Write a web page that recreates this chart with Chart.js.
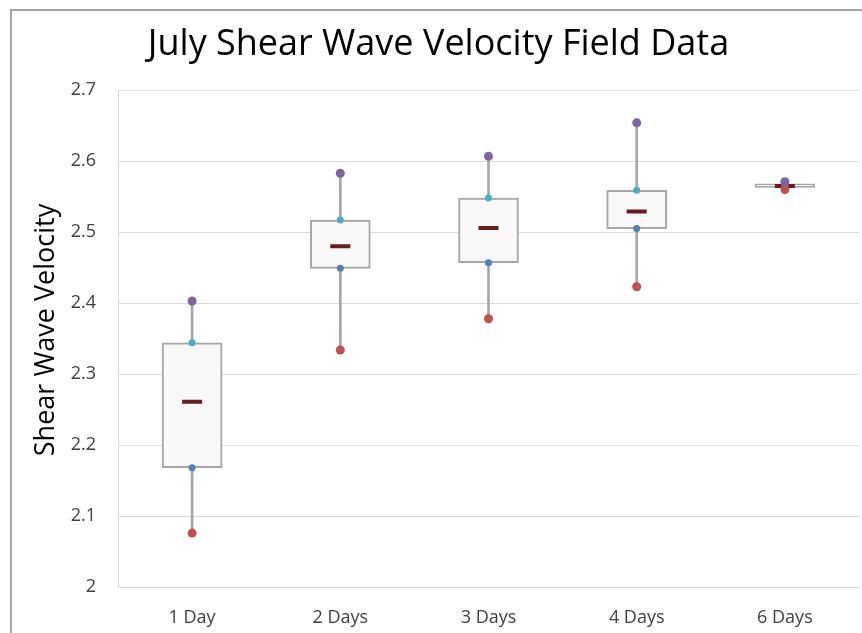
<!DOCTYPE html>
<html>
<head>
<meta charset="utf-8">
<title>July Shear Wave Velocity Field Data</title>
<script src="https://cdn.jsdelivr.net/npm/chart.js@4/dist/chart.umd.min.js"></script>
<style>
  html, body { margin: 0; padding: 0; background: #fff; overflow: hidden; }
  #wrap { position: relative; width: 862px; height: 633px; }
  #frame {
    position: absolute; left: 10px; top: 9px; width: 900px; height: 700px;
    border-top: 2px solid #a6a6a6; border-left: 2px solid #a6a6a6;
    pointer-events: none;
  }
</style>
</head>
<body>
<div id="wrap">
  <canvas id="boxChart" width="862" height="633"></canvas>
  <div id="frame"></div>
</div>
<script>
const categories = ['1 Day', '2 Days', '3 Days', '4 Days', '6 Days'];
const maxValues = [2.403, 2.583, 2.607, 2.654, 2.571];
const q3Values = [2.344, 2.517, 2.548, 2.559, 2.568];
const medianValues = [2.261, 2.480, 2.506, 2.529, 2.565];
const q1Values = [2.168, 2.449, 2.457, 2.505, 2.563];
const minValues = [2.076, 2.334, 2.378, 2.423, 2.560];
const yTicks = [2, 2.1, 2.2, 2.3, 2.4, 2.5, 2.6, 2.7];

const fontFamily = '"Open Sans", "Noto Sans", sans-serif';

// y axis title, drawn a bit above centre like the original
const yTitlePlugin = {
  id: 'yTitle',
  afterDraw(chart) {
    const ctx = chart.ctx;
    ctx.save();
    ctx.translate(46, 330);
    ctx.rotate(-Math.PI / 2);
    ctx.font = `27px ${fontFamily}`;
    ctx.fillStyle = '#000';
    ctx.textAlign = 'center';
    ctx.textBaseline = 'middle';
    ctx.fillText('Shear Wave Velocity', 0, 0);
    ctx.restore();
  },
};

const pointSet = (data, color, radius, order) => ({
  type: 'line',
  data,
  showLine: false,
  pointRadius: radius,
  pointBackgroundColor: color,
  pointBorderWidth: 0,
  pointBorderColor: color,
  order,
});

const context = document.getElementById('boxChart').getContext('2d');

new Chart(context, {
  type: 'bar',
  data: {
    labels: categories,
    datasets: [
      pointSet(maxValues, '#8064a2', 4.5, 0),
      pointSet(q3Values, '#4bacc6', 3.5, 1),
      pointSet(q1Values, '#4f81bd', 3.5, 1),
      pointSet(minValues, '#c0504d', 4.5, 0),
      {
        type: 'line',
        data: medianValues,
        showLine: false,
        pointStyle: 'line',
        pointRadius: 10,
        pointBorderWidth: 4,
        pointBorderColor: '#6b1b1b',
        order: 2,
      },
      {
        data: categories.map((c, i) => [q1Values[i], q3Values[i]]),
        backgroundColor: '#f8f8f8',
        borderColor: '#a6a6a6',
        borderWidth: 2,
        borderSkipped: false,
        barThickness: 60,
        grouped: false,
        order: 3,
      },
      {
        data: categories.map((c, i) => [minValues[i], maxValues[i]]),
        backgroundColor: '#a6a6a6',
        borderWidth: 0,
        barThickness: 2,
        grouped: false,
        order: 4,
      },
    ],
  },
  options: {
    responsive: false,
    animation: false,
    layout: { autoPadding: false, padding: { left: 18, right: 3, top: 0, bottom: 0 } },
    plugins: {
      legend: { display: false },
      tooltip: { enabled: false },
      title: {
        display: true,
        text: 'July Shear Wave Velocity Field Data',
        color: '#000',
        font: { family: fontFamily, size: 36, weight: 'normal' },
        padding: { top: 23, bottom: 24 },
      },
    },
    scales: {
      x: {
        grid: { display: false },
        border: { display: false },
        ticks: {
          color: '#404040',
          padding: 12,
          font: { family: fontFamily, size: 18 },
        },
        afterFit: (scale) => {
          scale.height = 46;
          scale.paddingLeft = 0;
          scale.paddingRight = 0;
        },
      },
      y: {
        min: 2,
        max: 2.7,
        grid: { color: '#d9d9d9', drawTicks: false },
        border: { display: true, color: '#d9d9d9' },
        afterBuildTicks: (scale) => { scale.ticks = yTicks.map((v) => ({ value: v })); },
        ticks: {
          color: '#404040',
          padding: 22,
          font: { family: fontFamily, size: 18 },
          callback: (v) => String(Number(v.toFixed(1))),
        },
        afterFit: (scale) => { scale.width = 100; },
      },
    },
  },
  plugins: [yTitlePlugin],
});
</script>
</body>
</html>
